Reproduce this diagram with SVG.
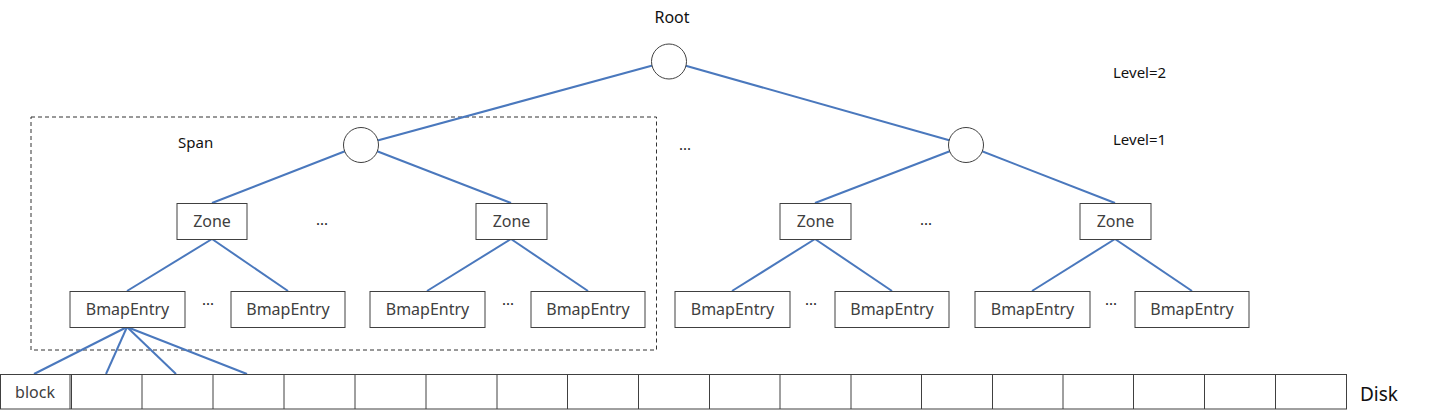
<svg xmlns="http://www.w3.org/2000/svg" width="1439" height="418" viewBox="0 0 1439 418">
<style>
.e{stroke:#4a78bd;stroke-width:2;fill:none}
.c{fill:#fff;stroke:#404040;stroke-width:1}
.b{fill:#fff;stroke:#404040;stroke-width:1}
.t{font-family:"Noto Sans","Open Sans",sans-serif;font-size:16px;fill:#404040;text-anchor:middle}
.k{font-family:"Noto Sans","Open Sans",sans-serif;font-size:15px;fill:#111}
.d{font-family:"Noto Sans","Open Sans",sans-serif;font-size:15px;fill:#222;text-anchor:middle}
</style>
<rect x="31" y="117" width="625.5" height="233" fill="none" stroke="#333" stroke-width="1" stroke-dasharray="4,3"/>
<g id="connectors">
<line class="e" x1="669" y1="61" x2="361" y2="145"/>
<line class="e" x1="669" y1="61" x2="966" y2="145"/>
<line class="e" x1="361" y1="145" x2="212" y2="203"/>
<line class="e" x1="361" y1="145" x2="511" y2="203"/>
<line class="e" x1="966" y1="145" x2="815" y2="203"/>
<line class="e" x1="966" y1="145" x2="1115" y2="203"/>
<line class="e" x1="212" y1="239" x2="127" y2="291"/>
<line class="e" x1="212" y1="239" x2="288" y2="291"/>
<line class="e" x1="511" y1="239" x2="427" y2="291"/>
<line class="e" x1="511" y1="239" x2="588" y2="291"/>
<line class="e" x1="815" y1="239" x2="732" y2="291"/>
<line class="e" x1="815" y1="239" x2="892" y2="291"/>
<line class="e" x1="1115" y1="239" x2="1032" y2="291"/>
<line class="e" x1="1115" y1="239" x2="1192" y2="291"/>
<line class="e" x1="127" y1="327" x2="34" y2="374"/>
<line class="e" x1="127" y1="327" x2="106" y2="374"/>
<line class="e" x1="127" y1="327" x2="176" y2="374"/>
<line class="e" x1="127" y1="327" x2="247" y2="374"/>
</g>
<g id="root"><circle class="c" cx="669" cy="61.5" r="17.5"/><text class="k" x="672" y="23" text-anchor="middle" style="font-size:16px">Root</text></g>
<g id="l1a"><circle class="c" cx="361" cy="145" r="17.5"/></g>
<g id="l1b"><circle class="c" cx="966" cy="145" r="17.5"/></g>
<g id="zone1"><rect class="b" x="177" y="203.5" width="70" height="36"/><text class="t" x="212" y="227">Zone</text></g>
<g id="zone2"><rect class="b" x="476" y="203.5" width="71" height="36"/><text class="t" x="511.5" y="227">Zone</text></g>
<g id="zone3"><rect class="b" x="780" y="203.5" width="71" height="36"/><text class="t" x="815.5" y="227">Zone</text></g>
<g id="zone4"><rect class="b" x="1080" y="203.5" width="71" height="36"/><text class="t" x="1115.5" y="227">Zone</text></g>
<g id="be1"><rect class="b" x="70" y="291.5" width="115" height="36"/><text class="t" x="127.5" y="315">BmapEntry</text></g>
<g id="be2"><rect class="b" x="231" y="291.5" width="114" height="36"/><text class="t" x="288" y="315">BmapEntry</text></g>
<g id="be3"><rect class="b" x="370" y="291.5" width="115" height="36"/><text class="t" x="427.5" y="315">BmapEntry</text></g>
<g id="be4"><rect class="b" x="531" y="291.5" width="114" height="36"/><text class="t" x="588" y="315">BmapEntry</text></g>
<g id="be5"><rect class="b" x="675" y="291.5" width="115" height="36"/><text class="t" x="732.5" y="315">BmapEntry</text></g>
<g id="be6"><rect class="b" x="835" y="291.5" width="114" height="36"/><text class="t" x="892" y="315">BmapEntry</text></g>
<g id="be7"><rect class="b" x="975" y="291.5" width="115" height="36"/><text class="t" x="1032.5" y="315">BmapEntry</text></g>
<g id="be8"><rect class="b" x="1135" y="291.5" width="114" height="36"/><text class="t" x="1192" y="315">BmapEntry</text></g>
<g id="disk" fill="#fff" stroke="#404040" stroke-width="1">
<rect x="0.5" y="374.5" width="1346" height="34.5"/>
<line x1="70" y1="374.5" x2="70" y2="409"/>
<line x1="71.5" y1="374.5" x2="71.5" y2="409"/>
<line x1="142" y1="374.5" x2="142" y2="409"/>
<line x1="213" y1="374.5" x2="213" y2="409"/>
<line x1="284" y1="374.5" x2="284" y2="409"/>
<line x1="355" y1="374.5" x2="355" y2="409"/>
<line x1="426" y1="374.5" x2="426" y2="409"/>
<line x1="497" y1="374.5" x2="497" y2="409"/>
<line x1="567.5" y1="374.5" x2="567.5" y2="409"/>
<line x1="638.5" y1="374.5" x2="638.5" y2="409"/>
<line x1="709.5" y1="374.5" x2="709.5" y2="409"/>
<line x1="780" y1="374.5" x2="780" y2="409"/>
<line x1="851" y1="374.5" x2="851" y2="409"/>
<line x1="921.5" y1="374.5" x2="921.5" y2="409"/>
<line x1="992.5" y1="374.5" x2="992.5" y2="409"/>
<line x1="1063" y1="374.5" x2="1063" y2="409"/>
<line x1="1133.5" y1="374.5" x2="1133.5" y2="409"/>
<line x1="1204.5" y1="374.5" x2="1204.5" y2="409"/>
<line x1="1275.5" y1="374.5" x2="1275.5" y2="409"/>
</g>
<text class="t" x="35" y="398">block</text>
<text class="k" x="1360" y="401" style="font-size:19px">Disk</text>
<text class="k" x="1113" y="78">Level=2</text>
<text class="k" x="1113" y="145">Level=1</text>
<text class="k" x="178" y="148">Span</text>
<text class="d" x="685" y="150">...</text>
<text class="d" x="322" y="225">...</text>
<text class="d" x="926" y="225">...</text>
<text class="d" x="208" y="305">...</text>
<text class="d" x="508" y="305">...</text>
<text class="d" x="811" y="305">...</text>
<text class="d" x="1111" y="305">...</text>
</svg>
